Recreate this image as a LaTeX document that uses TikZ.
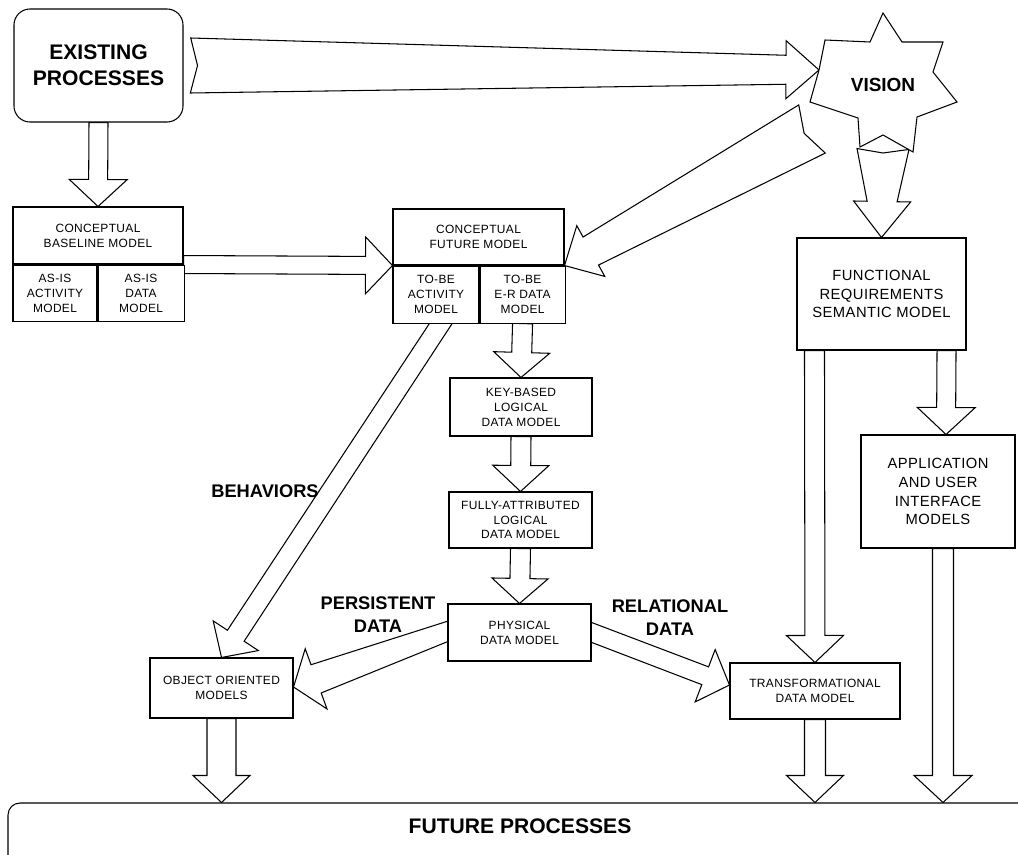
\documentclass[tikz,border=0pt]{standalone}
\usepackage{fontspec}
\setmainfont{Liberation Sans}
\usetikzlibrary{calc}
\newcommand{\px}{0.025cm}
% block arrow: tail, tip, tail/neck/head half widths, head length, tail notch (px)
\newcommand{\fatarrow}[7]{%
  \coordinate (fa-n) at ($(#2)!#6*\px!(#1)$);
  \coordinate (fa-t) at ($(#1)!#7*\px!(#2)$);
  \draw[fatline] ($(#1)!#3*\px!90:(#2)$) -- ($(fa-n)!#4*\px!90:(#2)$)
    -- ($(fa-n)!#5*\px!90:(#2)$) -- (#2) -- ($(fa-n)!#5*\px!-90:(#2)$)
    -- ($(fa-n)!#4*\px!-90:(#2)$) -- ($(#1)!#3*\px!-90:(#2)$) -- (fa-t) -- cycle;
}
\pgfdeclarelayer{back}
\pgfsetlayers{back,main}
\tikzset{
  sz/.style 2 args={minimum width=#1*\px, minimum height=#2*\px},
  mbox/.style={draw, fill=white, line width=0.75pt, align=center, inner sep=0pt,
    font=\addfontfeatures{LetterSpace=3}\fontsize{8.5}{10.6}\selectfont},
  bigbox/.style={mbox, font=\addfontfeatures{LetterSpace=3}\fontsize{10.5}{13.4}\selectfont},
  fatline/.style={draw, fill=white, line width=0.75pt, line join=miter},
  biglabel/.style={align=center, font=\bfseries\fontsize{13}{16.4}\selectfont},
}

\begin{document}
\begin{tikzpicture}[x=\px, y=-\px]
  \useasboundingbox (0,0) rectangle (1018,854);
  \clip (0,0) rectangle (1018,854);

  % Vision star
  \coordinate (vc) at (883,85);
  \begin{scope}[shift={(vc)}]
    \draw[fatline] (0,-72) -- (-13,-43) -- (-58,-45) -- (-64,-15) -- (-73,17)
      -- (-25,33) -- (-23,62) -- (0,50) -- (30,67) -- (34,32) -- (74,17)
      -- (50,-13) -- (60,-43) -- (19,-43) -- cycle;
  \end{scope}
  \node[font=\bfseries\fontsize{13.5}{16}\selectfont] (vision) at (vc) {VISION};

  % Boxes
  \node[mbox, sz={169}{113}, rounded corners=0.4cm,
    font=\bfseries\fontsize{15}{18.5}\selectfont] (exist) at (98.5,65.5) {EXISTING\\PROCESSES};
  \node[mbox, sz={170}{57}] (base) at (98,235.5) {CONCEPTUAL\\BASELINE MODEL};
  \node[mbox, sz={84}{56}, anchor=north west] (baseact) at (base.south west) {AS-IS\\ACTIVITY\\MODEL};
  \node[mbox, sz={86}{56}, anchor=north west] (basedat) at (baseact.north east) {AS-IS\\DATA\\MODEL};
  \node[mbox, sz={171}{56}] (future) at (478.5,237) {CONCEPTUAL\\FUTURE MODEL};
  \node[mbox, sz={86}{57}, anchor=north west] (futact) at (future.south west) {TO-BE\\ACTIVITY\\MODEL};
  \node[mbox, sz={85}{57}, anchor=north west] (futdat) at (futact.north east) {TO-BE\\E-R DATA\\MODEL};
  \node[mbox, sz={142}{58}] (key) at (521,407) {KEY-BASED\\LOGICAL\\DATA MODEL};
  \node[mbox, sz={143}{56}] (fully) at (520.5,520) {FULLY-ATTRIBUTED\\LOGICAL\\DATA MODEL};
  \node[mbox, sz={143}{57}] (phys) at (519.5,632.5) {PHYSICAL\\DATA MODEL};
  \node[mbox, sz={143}{60}] (oo) at (221.5,688) {OBJECT ORIENTED\\MODELS};
  \node[mbox, sz={170}{56}] (trans) at (815,691) {TRANSFORMATIONAL\\DATA MODEL};
  \node[bigbox, sz={169}{112}] (func) at (881.5,294) {FUNCTIONAL\\REQUIREMENTS\\SEMANTIC MODEL};
  \node[bigbox, sz={154}{113}] (app) at (938,491.5) {APPLICATION\\AND USER\\INTERFACE\\MODELS};
  \node[mbox, sz={1022}{77}, rounded corners=0.3cm] (futbox) at (519,841.5) {};
  \node[font=\bfseries\fontsize{15}{18}\selectfont] (futproc) at (520,826) {FUTURE PROCESSES};

  % Labels
  \node[biglabel] (behav) at (265,491) {BEHAVIORS};
  \node[biglabel] (persist) at (378,614.5) {PERSISTENT\\DATA};
  \node[biglabel] (relat) at (670,618) {RELATIONAL\\DATA};

  % Block arrows
  \begin{pgfonlayer}{back}
    \coordinate (t-ev) at ($(exist.east)+(7,0)$);
    \coordinate (h-ev) at ($(vc)+(-64,-15)$);
    \fatarrow{t-ev}{h-ev}{27.5}{14.5}{29}{33}{7}
    \fatarrow{exist.south}{base.north}{9.5}{9.5}{29}{27}{0}
    \fatarrow{base.south east}{future.south west}{9}{9}{28.5}{27}{0}
    \coordinate (t-vf) at ($(vc)+(-71,44)$);
    \fatarrow{t-vf}{future.south east}{27.5}{16}{29}{30}{9}
    \coordinate (t-vr) at ($(vc)+(0,64)$);
    \fatarrow{t-vr}{func.north}{26}{15}{28.5}{36}{4}
    \coordinate (t-fo) at ($(futact.south)+(10,-8)$);
    \fatarrow{t-fo}{oo.north}{9.5}{10}{27}{26}{0}
    \coordinate (t-po) at ($(phys.west)+(5,-3)$);
    \coordinate (h-po) at ($(oo.east)+(0,-1)$);
    \fatarrow{t-po}{h-po}{9.4}{15}{32}{24}{0}
    \coordinate (t-pt) at ($(phys.east)+(-5,-2)$);
    \coordinate (h-pt) at ($(trans.west)+(0,-6)$);
    \fatarrow{t-pt}{h-pt}{9.3}{9.5}{28}{26}{0}
    \fatarrow{futdat.south}{key.north}{10}{10}{28}{25}{0}
    \fatarrow{key.south}{fully.north}{10}{10}{28}{26}{0}
    \fatarrow{fully.south}{phys.north}{10}{10}{28}{25}{0}
    \coordinate (t-ft) at ($(func.south west)+(18,0)$);
    \fatarrow{t-ft}{trans.north}{10}{10}{28.5}{27}{0}
    \coordinate (t-fa) at ($(func.south east)+(-20,0)$);
    \coordinate (h-fa) at ($(app.north)+(8,0)$);
    \fatarrow{t-fa}{h-fa}{9.5}{9.5}{29}{27}{0}
    \coordinate (t-af) at ($(app.south)+(5,0)$);
    \coordinate (h-af) at ($(app.south |- futbox.north)+(5,0)$);
    \fatarrow{t-af}{h-af}{10.5}{10.5}{29}{27}{0}
    \coordinate (h-tf) at (trans.south |- futbox.north);
    \fatarrow{trans.south}{h-tf}{10.5}{10.5}{28.5}{27}{0}
    \coordinate (h-of) at (oo.south |- futbox.north);
    \fatarrow{oo.south}{h-of}{14.5}{14.5}{28.5}{27}{0}
  \end{pgfonlayer}
\end{tikzpicture}
\end{document}
